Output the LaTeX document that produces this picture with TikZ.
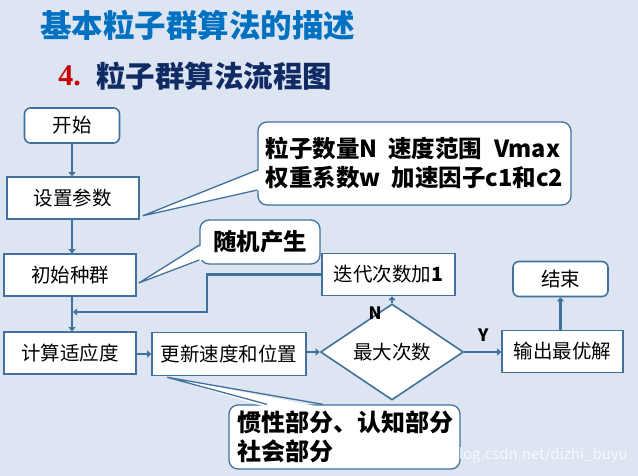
\documentclass[tikz,border=0pt]{standalone}
\usepackage{fontspec}
\setmainfont{Noto Sans CJK SC}
\newfontfamily\numfont{Liberation Serif}
\usetikzlibrary{shapes.geometric,arrows.meta,calc}
\definecolor{bgc}{RGB}{220,229,241}
\definecolor{linec}{RGB}{65,113,156}
\definecolor{titleblue}{RGB}{0,112,192}
\definecolor{subnavy}{RGB}{16,42,100}
\definecolor{numred}{RGB}{200,0,0}

\begin{document}
\begin{tikzpicture}[x=1pt,y=-1pt,
    box/.style={draw=linec,line width=1.6pt,fill=white,inner sep=0pt,minimum height=42pt,font=\fontsize{19.5}{22}\selectfont},
    term/.style={box,rounded corners=6pt,minimum height=35pt},
    test/.style={box,diamond,minimum width=143pt,minimum height=68pt},
    note/.style={draw=linec,line width=1.3pt,fill=white,rounded corners=9pt,inner sep=0pt,align=left,font=\fontsize{23.5}{29}\selectfont\bfseries},
    flow/.style={draw=linec,line width=2.6pt,-{Triangle[length=4pt,width=7pt]}},
    tail/.style={draw=linec,line width=1.3pt,line join=miter},
    yn/.style={font=\fontsize{17}{17}\selectfont\bfseries,inner sep=0pt}]
  \fill[bgc] (0,0) rectangle (638,476);
  \useasboundingbox (0,0) rectangle (638,476);

  % headings
  \node[font=\fontsize{31.5}{32}\selectfont\bfseries,text=titleblue,inner sep=0pt] (title) at (198,25) {基本粒子群算法的描述};
  \node[font=\fontsize{29.5}{30}\selectfont\bfseries,text=subnavy,inner sep=0pt,anchor=west] (subtitle) at (96,76) {粒子群算法流程图};
  \node[font=\numfont\fontsize{30}{30}\selectfont\bfseries,text=numred,inner sep=0pt,anchor=east] (secnum) at ([xshift=-15pt]subtitle.west) {4.};

  % flow chart
  \node[term,minimum width=95pt] (start) at (72,125.5) {开始};
  \node[box,minimum width=132pt] (setpar) at (73,198) {设置参数};
  \node[box,minimum width=132pt] (initpop) at (70,275) {初始种群};
  \node[box,minimum width=132pt] (fitness) at (70,353) {计算适应度};
  \node[box,minimum width=154pt,minimum height=43pt] (update) at (229,354) {更新速度和位置};
  \node[test] (maxiter) at (392,352) {最大次数};
  \node[box,minimum width=133pt] (iterinc) at (388.5,274.5) {迭代次数加\textbf{1}};
  \node[box,minimum width=121pt] (output) at (562.5,351.5) {输出最优解};
  \node[term,minimum width=95pt] (finish) at (560.5,279) {结束};

  \coordinate (loopturn) at (207,312);
  \coordinate (loopjoin) at (73,312);

  \draw[flow] (start) -- (start |- setpar.north);
  \draw[flow] (setpar.south -| start) -- (initpop.north -| start);
  \draw[flow] (initpop.south -| start) -- (fitness.north -| start);
  \draw[flow] (iterinc) -| (loopturn) -- (loopjoin);
  \draw[flow] (fitness.east |- update) -- (update.west);
  \draw[flow] (update.east |- maxiter) -- (maxiter.west);
  \draw[flow] (maxiter.east) -- (maxiter.east -| output.west);
  \draw[flow] (maxiter.north) -- (maxiter.north |- iterinc.south);
  \node[yn] (ylab) at ($(maxiter.east)+(19,-17)$) {Y};
  \node[yn] (nlab) at ($(iterinc.south)+(-13.5,17)$) {N};
  \draw[flow] (output.north -| finish) -- (finish.south);

  % notes
  \node[note,minimum width=313pt,minimum height=83pt] (parnote) at (414.5,163.5)
    {粒子数量N\hspace{0.45em}速度范围\hspace{0.5em}Vmax\\权重系数w\hspace{0.45em}加速因子c1和c2};
  \coordinate (partip) at ($(setpar.south east)+(3,-4)$);
  \fill[white] (partip) -- ($(parnote.west)+(3,6.5)$) -- ($(parnote.west)+(3,26.5)$) -- cycle;
  \draw[tail] ($(parnote.west)+(0,6.5)$) -- (partip) -- ($(parnote.west)+(0,26.5)$);

  \node[note,minimum width=120pt,minimum height=44pt] (randnote) at (260,242) {随机产生};
  \coordinate (randtip) at ($(initpop.east)+(2,8)$);
  \fill[white] (randtip) -- ($(randnote.west)+(3,3)$) -- ($(randnote.west)+(3,18)$) -- cycle;
  \draw[tail] ($(randnote.west)+(0,3)$) -- (randtip) -- ($(randnote.west)+(0,18)$);

  \node[note,minimum width=231pt,minimum height=64pt,text width=215pt,font=\fontsize{24}{29}\selectfont\bfseries] (velnote) at (344.5,437)
    {惯性部分、认知部分\\社会部分};
  \coordinate (veltip) at ($(update.south west)+(16,1)$);
  \fill[white] (veltip) -- ($(velnote.north)+(-77.5,3)$) -- ($(velnote.north)+(-21.5,3)$) -- cycle;
  \draw[tail] ($(velnote.north)+(-77.5,0)$) -- (veltip) -- ($(velnote.north)+(-21.5,0)$);

  \node[font=\fontsize{15}{15}\selectfont,text=white,opacity=0.8,inner sep=0pt,anchor=east] (mark) at (628,455) {https://blog.csdn.net/dizhi\_buyu};
\end{tikzpicture}
\end{document}
